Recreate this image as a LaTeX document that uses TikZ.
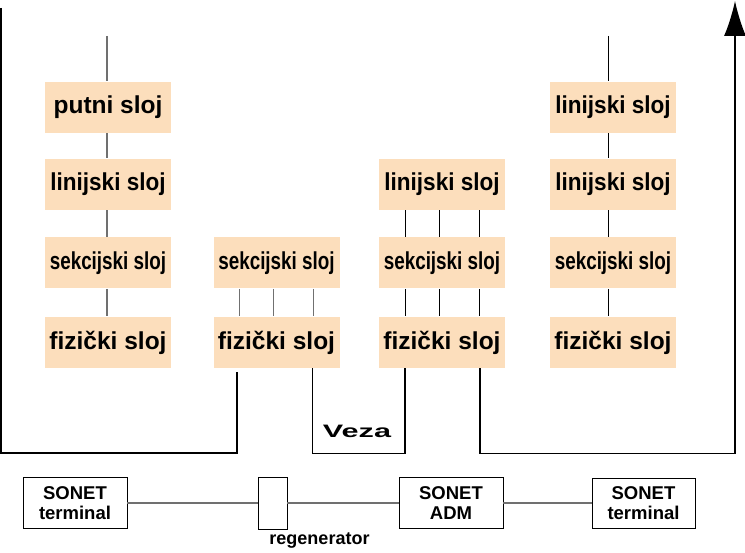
\documentclass[tikz,border=0pt]{standalone}
\usepackage{fontspec}
\setmainfont{Liberation Sans}
\usepackage{xcolor}
\usepackage{graphicx}
\usetikzlibrary{arrows.meta}
\definecolor{slojfill}{RGB}{252,222,188}
\definecolor{linegray}{RGB}{112,112,112}

\begin{document}
\begin{tikzpicture}[x=1pt, y=-1pt, line width=1pt,
	sloj/.style={fill=slojfill, minimum width=126pt, minimum height=51pt, inner sep=0pt, font=\fontsize{24.5}{26}\selectfont\bfseries},
	uredjaj/.style={draw, line width=0.8pt, inner sep=0pt, align=center, font=\fontsize{18.5}{19.5}\selectfont\bfseries},
	spoj/.style={linegray, line width=1.5pt},
	tanka/.style={line width=0.9pt}]
	\useasboundingbox (0,0) rectangle (745,553);
	\node[sloj] (put1) at (108,107.5) {putni sloj};
	\node[sloj] (lin1) at (108,184.5) {\scalebox{0.92}[1]{linijski sloj}};
	\node[sloj] (sek1) at (108,263) {\scalebox{0.77}[1]{sekcijski sloj}};
	\node[sloj] (fiz1) at (108,342.5) {fizički sloj};
	\node[sloj] (sek2) at (276.5,263) {\scalebox{0.77}[1]{sekcijski sloj}};
	\node[sloj] (fiz2) at (276.5,342.5) {fizički sloj};
	\node[sloj] (lin3) at (442,184.5) {\scalebox{0.92}[1]{linijski sloj}};
	\node[sloj] (sek3) at (442,263) {\scalebox{0.77}[1]{sekcijski sloj}};
	\node[sloj] (fiz3) at (442,342.5) {fizički sloj};
	\node[sloj] (lin4a) at (613,107.5) {\scalebox{0.92}[1]{linijski sloj}};
	\node[sloj] (lin4b) at (613,184.5) {\scalebox{0.92}[1]{linijski sloj}};
	\node[sloj] (sek4) at (613,263) {\scalebox{0.77}[1]{sekcijski sloj}};
	\node[sloj] (fiz4) at (613,342.5) {fizički sloj};
	\coordinate (vrh1) at (107,36);
	\coordinate (vrh4) at (608.5,36);
	\draw[spoj] (vrh1) -- (vrh1 |- put1.north);
	\draw[tanka] (vrh4) -- (vrh4 |- lin4a.north);
	\foreach \a/\b in {put1/lin1, lin1/sek1, sek1/fiz1} {
		\draw[spoj] ([xshift=-1pt]\a.south) -- ([xshift=-1pt]\b.north);
	}
	\foreach \a/\b in {lin4a/lin4b, lin4b/sek4, sek4/fiz4} {
		\draw[tanka] ([xshift=-4.5pt]\a.south) -- ([xshift=-4.5pt]\b.north);
	}
	\foreach \d in {-37,-3,37} {
		\draw[spoj] ([xshift=\d pt]sek2.south) -- ([xshift=\d pt]fiz2.north);
		\draw[tanka] ([xshift=\d pt]lin3.south) -- ([xshift=\d pt]sek3.north);
		\draw[tanka] ([xshift=\d pt]sek3.south) -- ([xshift=\d pt]fiz3.north);
	}
	\coordinate (vrh0) at (1,8);
	\coordinate (dno0) at (1,453);
	\coordinate (strelica) at (735,1);
	\draw[line width=1.2pt] (vrh0) -- (dno0) -| ([xshift=-39.5pt,yshift=-4pt]fiz2.south);
	\draw[line width=1.2pt] ([xshift=36pt]fiz2.south) -- ++(0,85) -| ([xshift=-37pt]fiz3.south);
	\draw[line width=1.2pt, -{Latex[length=35pt,width=22pt]}] ([xshift=38pt]fiz3.south) -- ++(0,85) -| (strelica);
	\node[font=\fontsize{18}{20}\selectfont\bfseries, anchor=base] (veza) at (357,437.5) {\scalebox{1.7}[1]{Veza}};
	\node[uredjaj, minimum width=104pt, minimum height=51pt] (term1) at (75,503) {SONET\\terminal};
	\node[uredjaj, minimum width=29pt, minimum height=52pt] (reg) at (272.5,503) {};
	\node[uredjaj, minimum width=104pt, minimum height=51pt] (adm) at (451,503) {SONET\\ADM};
	\node[uredjaj, minimum width=103pt, minimum height=50pt] (term2) at (643.5,503) {SONET\\terminal};
	\node[font=\fontsize{18}{20}\selectfont\bfseries] (reglbl) at (319.5,541) {regenerator};
	\draw[spoj] (term1) -- (reg) -- (adm) -- (term2);
\end{tikzpicture}
\end{document}
